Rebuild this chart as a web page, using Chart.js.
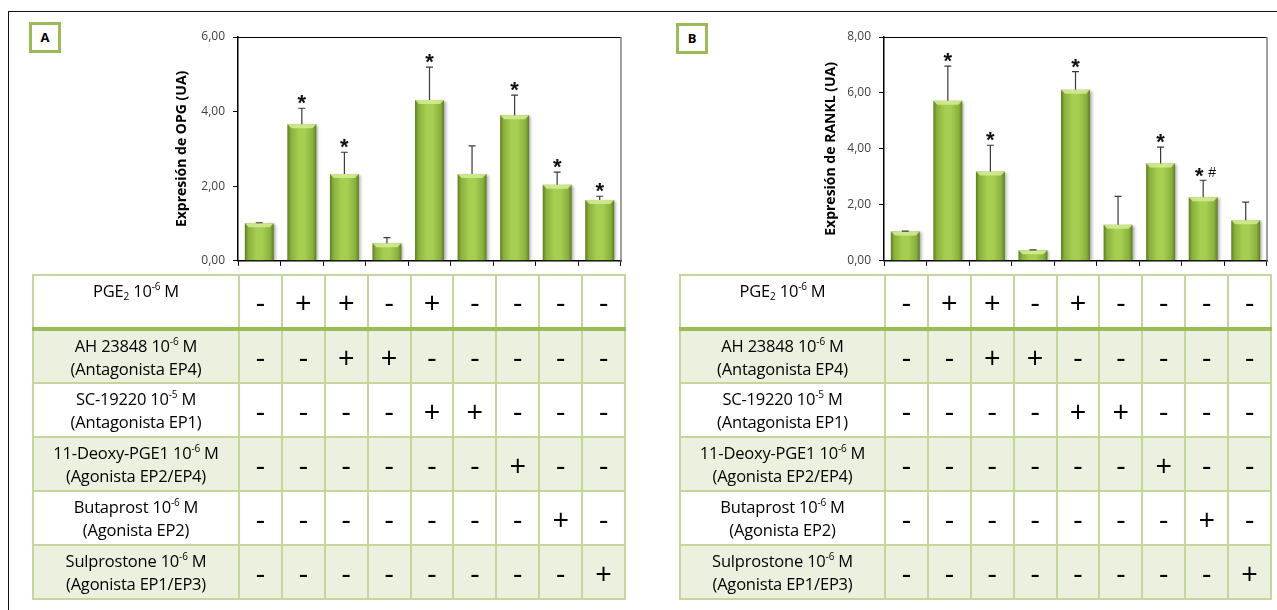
<!DOCTYPE html>
<html>
<head>
<meta charset="utf-8">
<script src="https://cdn.jsdelivr.net/npm/chart.js@4.4.0/dist/chart.umd.min.js"></script>
<style>
  body { margin: 0; width: 1277px; height: 610px; background: #fff; position: relative; overflow: hidden; font-family: "Open Sans", sans-serif; }
  .frame { position: absolute; left: 8px; top: 11px; width: 1300px; height: 700px; border-top: 1.5px solid #111; border-left: 1.5px solid #111; }
  .tag { position: absolute; width: 26px; height: 25px; border: 3px solid #9bbb59; background: #fff; font: bold 13px "Open Sans", sans-serif; text-align: center; line-height: 25px; color: #000; }
  canvas { position: absolute; top: 0; }
  table { position: absolute; top: 274px; border-collapse: collapse; table-layout: fixed; }
  td { border: 2px solid #c3d69b; padding: 0; text-align: center; color: #000; }
  td.lab { font-size: 16.5px; line-height: 23px; vertical-align: middle; letter-spacing: -0.2px; }
  td.sign { font-size: 29px; vertical-align: middle; }
  tr.first td { border-bottom: 4px solid #9bbb59; }
  tr.first td.lab { vertical-align: top; padding-top: 3px; }
  tr.shade td { background: #ebf1de; }
  sup { font-size: 10px; vertical-align: 7px; line-height: 0; }
  sub { font-size: 10px; vertical-align: -3px; line-height: 0; }
</style>
</head>
<body>
<div class="frame"></div>
<div class="tag" style="left:29px;top:22px">A</div>
<div class="tag" style="left:676px;top:23px">B</div>
<canvas id="chartA" width="640" height="276" style="left:0"></canvas>
<canvas id="chartB" width="637" height="276" style="left:640px"></canvas>
<table id="tableA" style="left:32px;width:592px"></table>
<table id="tableB" style="left:679px;width:591px"></table>
<script>
// condiciones (una barra por condicion)
const conditions = ['Control', 'PGE2', 'PGE2 + AH 23848', 'AH 23848', 'PGE2 + SC-19220',
  'SC-19220', '11-Deoxy-PGE1', 'Butaprost', 'Sulprostone'];

// panel A: OPG
const opgMeans = [1.01, 3.66, 2.33, 0.47, 4.31, 2.33, 3.90, 2.04, 1.63];
const opgErrors = [0.01, 0.43, 0.58, 0.15, 0.88, 0.75, 0.54, 0.34, 0.10];
const opgMarks = ['', '*', '*', '', '*', '', '*', '*', '*'];
const opgTicks = ['0,00', '2,00', '4,00', '6,00'];

// panel B: RANKL
const ranklMeans = [1.05, 5.72, 3.19, 0.38, 6.11, 1.29, 3.48, 2.27, 1.45];
const ranklErrors = [0.01, 1.24, 0.94, 0.01, 0.65, 1.01, 0.58, 0.61, 0.65];
const ranklMarks = ['', '*', '*', '', '*', '', '*', '* #', ''];
const ranklTicks = ['0,00', '2,00', '4,00', '6,00', '8,00'];

// tabla de tratamientos
const rowNames = ['PGE|2', 'AH 23848', 'SC-19220', '11-Deoxy-PGE1', 'Butaprost', 'Sulprostone'];
const rowDoses = ['-6', '-6', '-5', '-6', '-6', '-6'];
const rowRoles = ['', '(Antagonista EP4)', '(Antagonista EP1)', '(Agonista EP2/EP4)', '(Agonista EP2)', '(Agonista EP1/EP3)'];
const rowSigns = [
  ['-', '+', '+', '-', '+', '-', '-', '-', '-'],
  ['-', '-', '+', '+', '-', '-', '-', '-', '-'],
  ['-', '-', '-', '-', '+', '+', '-', '-', '-'],
  ['-', '-', '-', '-', '-', '-', '+', '-', '-'],
  ['-', '-', '-', '-', '-', '-', '-', '+', '-'],
  ['-', '-', '-', '-', '-', '-', '-', '-', '+']
];

const BAR_PCT = 0.68;
Chart.defaults.font.family = '"Open Sans", sans-serif';

function barFill(c) {
  const xs = c.chart.scales.x;
  if (!xs || c.dataIndex === undefined) return '#9bbb59';
  const cx = xs.getPixelForValue(c.dataIndex);
  const half = xs.width / conditions.length * BAR_PCT / 2;
  if (!isFinite(cx) || !isFinite(half) || half <= 0) return '#9bbb59';
  const g = c.chart.ctx.createLinearGradient(cx - half, 0, cx + half, 0);
  g.addColorStop(0, '#5e7d22');
  g.addColorStop(0.12, '#89b03c');
  g.addColorStop(0.4, '#a6cf52');
  g.addColorStop(0.6, '#a6cf52');
  g.addColorStop(0.88, '#89b03c');
  g.addColorStop(1, '#5e7d22');
  return g;
}

const barDeco = {
  id: 'barDeco',
  beforeDatasetsDraw(chart) {
    const ctx = chart.ctx;
    ctx.save();
    ctx.shadowColor = 'rgba(0,0,0,0.35)';
    ctx.shadowBlur = 3;
    ctx.shadowOffsetX = 2;
    ctx.shadowOffsetY = 1;
  },
  afterDatasetsDraw(chart, args, opts) {
    const ctx = chart.ctx;
    ctx.restore();
    const y = chart.scales.y;
    const area = chart.chartArea;
    const bars = chart.getDatasetMeta(0).data;
    // bisel claro arriba de cada barra
    bars.forEach(b => {
      const l = b.x - b.width / 2, r = b.x + b.width / 2;
      ctx.fillStyle = 'rgba(214,236,150,0.85)';
      ctx.beginPath();
      ctx.moveTo(l, b.y);
      ctx.lineTo(r, b.y);
      ctx.lineTo(r - 4, b.y + 4);
      ctx.lineTo(l + 4, b.y + 4);
      ctx.closePath();
      ctx.fill();
    });
    // barras de error y marcas de significacion
    bars.forEach((b, i) => {
      const top = y.getPixelForValue(opts.means[i] + opts.errors[i]);
      ctx.strokeStyle = '#3a3a3a';
      ctx.lineWidth = 1.2;
      ctx.beginPath();
      ctx.moveTo(b.x, b.y);
      ctx.lineTo(b.x, top);
      ctx.moveTo(b.x - 3.5, top);
      ctx.lineTo(b.x + 3.5, top);
      ctx.stroke();
      const mark = opts.marks[i];
      if (!mark) return;
      ctx.fillStyle = '#111';
      ctx.textAlign = 'center';
      ctx.textBaseline = 'alphabetic';
      ctx.font = 'bold 22px "Liberation Sans"';
      if (mark.includes('#')) {
        ctx.fillText('*', b.x - 4, top + 3);
        ctx.font = '14px "Liberation Sans"';
        ctx.fillText('#', b.x + 9, top - 3);
      } else {
        ctx.fillText('*', b.x, top + 2);
      }
    });
    // borde superior y derecho del area del grafico
    ctx.save();
    ctx.lineWidth = 1;
    ctx.strokeStyle = '#000';
    ctx.beginPath();
    ctx.moveTo(area.left, area.top + 0.5);
    ctx.lineTo(area.right, area.top + 0.5);
    ctx.stroke();
    ctx.strokeStyle = '#808080';
    ctx.lineWidth = 1.5;
    ctx.beginPath();
    ctx.moveTo(area.right, area.top);
    ctx.lineTo(area.right, area.bottom);
    ctx.stroke();
    ctx.restore();
  }
};

function makeChart(id, means, errors, marks, ticks, maxY, title, pad, titlePad) {
  return new Chart(document.getElementById(id), {
    type: 'bar',
    data: {
      labels: conditions,
      datasets: [{
        data: means,
        backgroundColor: barFill,
        borderWidth: 0,
        barPercentage: BAR_PCT,
        categoryPercentage: 1
      }]
    },
    options: {
      responsive: false,
      animation: false,
      layout: { padding: pad },
      scales: {
        x: {
          ticks: { display: false },
          grid: { drawOnChartArea: false, tickLength: 5, color: '#000' },
          border: { color: '#000', width: 1.5 }
        },
        y: {
          min: 0,
          max: maxY,
          ticks: {
            stepSize: 2,
            padding: 8,
            color: '#404040',
            font: { size: 12 },
            callback: (v, i) => ticks[i]
          },
          grid: { drawOnChartArea: false, tickLength: 5, color: '#000' },
          border: { color: '#000', width: 1.5 },
          title: {
            display: true,
            text: title,
            color: '#000',
            font: { size: 14, weight: 'bold' },
            padding: { top: titlePad, bottom: 0 }
          },
          afterFit: s => { s.width = 66; }
        }
      },
      plugins: {
        legend: { display: false },
        tooltip: { enabled: false },
        barDeco: { means: means, errors: errors, marks: marks }
      }
    },
    plugins: [barDeco]
  });
}

makeChart('chartA', opgMeans, opgErrors, opgMarks, opgTicks, 6, 'Expresión de OPG (UA)',
  { top: 37, left: 172, right: 19, bottom: 4 }, 2);
makeChart('chartB', ranklMeans, ranklErrors, ranklMarks, ranklTicks, 8, 'Expresión de RANKL (UA)',
  { top: 37, left: 178, right: 10, bottom: 3 }, 5);

function buildTable(id, labelW, colW) {
  const t = document.getElementById(id);
  let html = '<colgroup><col style="width:' + labelW + 'px">';
  for (let j = 0; j < conditions.length; j++) html += '<col style="width:' + colW + 'px">';
  html += '</colgroup>';
  rowNames.forEach((name, r) => {
    const cls = (r === 0 ? 'first' : '') + (r % 2 === 1 ? ' shade' : '');
    const parts = name.split('|');
    let label = parts[0] + (parts[1] ? '<sub>' + parts[1] + '</sub>' : '') +
      ' 10<sup>' + rowDoses[r] + '</sup> M';
    if (rowRoles[r]) label += '<br>' + rowRoles[r];
    html += '<tr class="' + cls + '" style="height:54px"><td class="lab">' + label + '</td>';
    rowSigns[r].forEach(s => { html += '<td class="sign">' + s + '</td>'; });
    html += '</tr>';
  });
  t.innerHTML = html;
}
buildTable('tableA', 206, 42.9);
buildTable('tableB', 205, 42.9);
</script>
</body>
</html>
